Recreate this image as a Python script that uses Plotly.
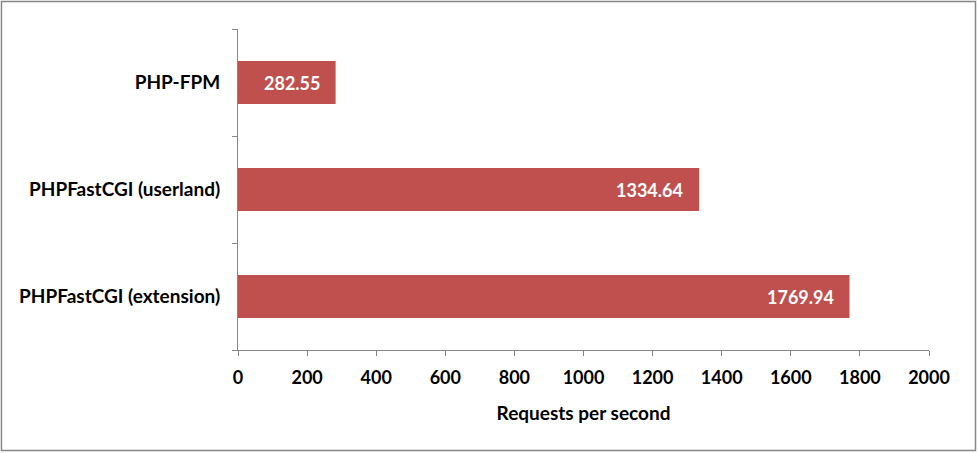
import plotly.graph_objects as go

# benchmark results (requests per second)
servers = ["PHP-FPM", "PHPFastCGI (userland)", "PHPFastCGI (extension)"]
rps = [282.55, 1334.64, 1769.94]
x_ticks = list(range(0, 2001, 200))

bar_color = "#C0504D"
axis_color = "#868686"
font_family = "Lato, 'Open Sans', sans-serif"

fig = go.Figure()

fig.add_trace(go.Bar(
    x=rps,
    y=servers,
    orientation="h",
    width=0.4,
    marker=dict(color=bar_color, line=dict(width=0)),
    hoverinfo="skip",
))

# value labels inside the bar ends
for s, v in zip(servers, rps):
    fig.add_annotation(
        x=v, y=s, text=f"<b>{v:.2f}</b>",
        xanchor="right", xshift=-14, showarrow=False,
        font=dict(family=font_family, size=18, color="white"),
    )

fig.update_xaxes(
    range=[0, 2000],
    tickvals=x_ticks,
    tickfont=dict(family=font_family, size=18, color="black", weight="bold"),
    showgrid=False, zeroline=False,
    showline=True, linecolor=axis_color, linewidth=1,
    ticks="outside", ticklen=5, tickcolor=axis_color,
    ticklabelstandoff=6,
    title=dict(text="<b>Requests per second</b>",
               font=dict(family=font_family, size=19, color="black"),
               standoff=20),
)
fig.update_yaxes(
    categoryorder="array",
    categoryarray=servers[::-1],
    tickfont=dict(family=font_family, size=19, color="black", weight="bold"),
    showgrid=False, zeroline=False,
    showline=True, linecolor=axis_color, linewidth=1,
    ticks="outside", ticklen=5, tickcolor=axis_color,
    tickson="boundaries",
    ticklabelstandoff=13,
)

# outer chart border
fig.add_shape(type="rect", xref="paper", yref="paper",
              x0=-0.3423, x1=1.0673, y0=-0.3131, y1=1.0857,
              line=dict(color="#868686", width=1.5))

fig.update_layout(
    width=978, height=453,
    margin=dict(l=238, r=49, t=29, b=103),
    plot_bgcolor="white", paper_bgcolor="white",
    showlegend=False,
)

# drop the default page margin so the chart sits at the window corner
fig.write_html("out.html", config={"displayModeBar": False},
               post_script="document.body.style.margin='0';")
